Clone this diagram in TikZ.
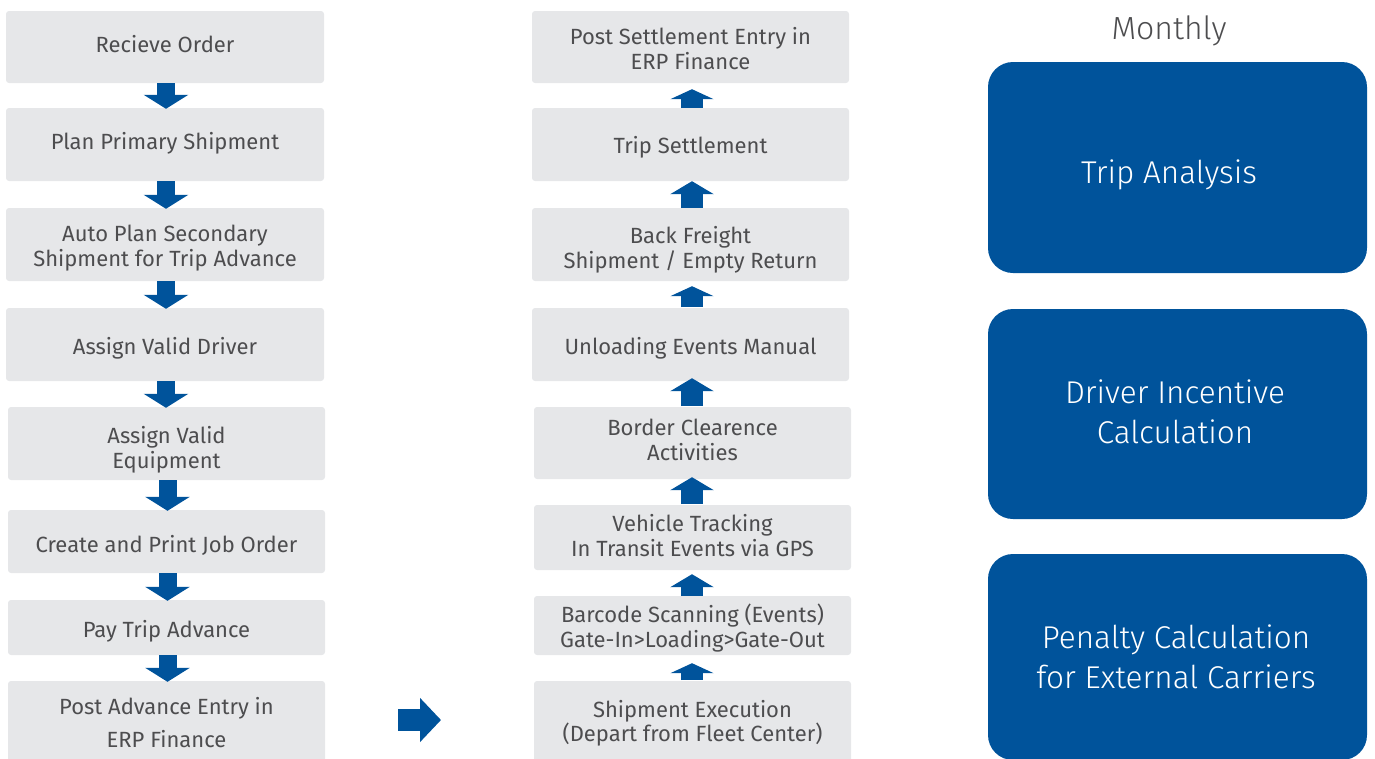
\documentclass[tikz,border=0pt]{standalone}
\usepackage{fontspec}
\setmainfont{Fira Sans}
\newfontfamily\lightfont{Fira Sans Light}
\usetikzlibrary{arrows.meta,calc}
\definecolor{boxgray}{HTML}{E6E7E9}
\definecolor{txtgray}{HTML}{4D4D4F}
\definecolor{corpblue}{HTML}{00539B}
\tikzset{
  graybox/.style={fill=boxgray, rounded corners=3pt, inner sep=0pt},
  graytext/.style={inner sep=0pt, align=center, anchor=base,
    text=txtgray, font=\fontsize{22}{24.5}\selectfont},
  bluebox/.style={fill=corpblue, rounded corners=25pt, inner sep=0pt},
  bluetext/.style={inner sep=0pt, align=center, anchor=base,
    text=white, font=\lightfont\fontsize{31.5}{40}\selectfont},
  blockarrow/.style={draw=corpblue, line width=22pt,
    -{Triangle[width=43pt,length=13pt]}},
  leftarrow/.style={draw=corpblue, line width=18pt,
    -{Triangle[width=44pt,length=14pt]}},
  smallarrow/.style={draw=corpblue, line width=22pt,
    -{Triangle[width=43pt,length=10pt]}},
  bigarrow/.style={draw=corpblue, line width=22pt,
    -{Triangle[width=43pt,length=21pt]}}
}
% name, x1, x2, y1, y2, baseline of the last text line, text
\newcommand{\gbox}[7]{%
  \node[graybox, minimum width={#3pt-#2pt}, minimum height={#5pt-#4pt}]
    (#1) at ({(#2+#3)/2},{(#4+#5)/2}) {};
  \node[graytext] (#1t) at ({(#2+#3)/2},#6) {#7};}
\begin{document}
\begin{tikzpicture}[x=1pt,y=-1pt]
\useasboundingbox (0,0) rectangle (1375,758);
\clip (0,0) rectangle (1375,758);
% left column
\gbox{l1}{6}{324}{11}{83}{52.5}{Recieve Order}
\gbox{l2}{6}{324}{108}{181}{149}{Plan Primary Shipment}
\gbox{l3}{6}{324}{208}{281}{266}{Auto Plan Secondary\\Shipment for Trip Advance}
\gbox{l4}{6}{324}{308}{381}{354.5}{Assign Valid Driver}
\gbox{l5}{8}{325}{407}{480}{468}{Assign Valid\\Equipment}
\gbox{l6}{8}{325}{510}{573}{552.5}{Create and Print Job Order}
\gbox{l7}{8}{325}{600}{655}{637}{Pay Trip Advance}
\gbox{l8}{8}{325}{681}{767}{747}{Post Advance Entry in\\[8.5pt]ERP Finance}
\foreach \a/\b in {l1/l2,l2/l3,l3/l4,l4/l5,l5/l6,l6/l7,l7/l8}{
  \draw[leftarrow] ($(\a.south)+(1,0)$) -- ($(\a.south |- \b.north)+(1,1)$);
}
% middle column
\gbox{m1}{532}{849}{11}{83}{69}{Post Settlement Entry in\\ERP Finance}
\gbox{m2}{532}{849}{108}{181}{153}{Trip Settlement}
\gbox{m3}{532}{849}{208}{281}{268}{Back Freight\\Shipment / Empty Return}
\gbox{m4}{532}{849}{308}{381}{354.5}{Unloading Events Manual}
\gbox{m5}{534}{851}{407}{479}{460}{Border Clearence\\Activities}
\gbox{m6}{534}{851}{505}{570}{556}{Vehicle Tracking\\In Transit Events via GPS}
\gbox{m7}{534}{851}{596}{655}{647}{Barcode Scanning (Events)\\Gate-In>Loading>Gate-Out}
\gbox{m8}{534}{851}{681}{763}{741.5}{Shipment Execution\\(Depart from Fleet Center)}
\draw[smallarrow] (692,108) -- ($(m1.south)+(1.5,6)$);
\draw[blockarrow] (692,208) -- ($(m2.south)+(1.5,0)$);
\draw[smallarrow] (692,307) -- ($(m3.south)+(1.5,5)$);
\draw[blockarrow] (692,406) -- ($(m4.south)+(1.5,-3)$);
\draw[blockarrow] (692,504) -- ($(m5.south)+(-0.5,-2)$);
\draw[blockarrow] (692,596) -- ($(m6.south)+(-0.5,4)$);
\draw[smallarrow] (692,680) -- ($(m7.south)+(-0.5,8)$);
% right arrow
\coordinate (ra1) at (398,720);
\coordinate (ra2) at (441,720);
\draw[bigarrow] (ra1) -- (ra2);
% right column
\node[inner sep=0pt, anchor=base, text=txtgray, font=\lightfont\fontsize{32}{36}\selectfont] (monthly) at (1169,39) {Monthly};
\node[bluebox, minimum width=379pt, minimum height=211pt] (b1) at (1177.5,167.5) {};
\node[bluetext] (b1t) at (1169,183) {Trip Analysis};
\node[bluebox, minimum width=379pt, minimum height=210pt] (b2) at (1177.5,414) {};
\node[bluetext] (b2t) at (1175,443) {Driver Incentive\\Calculation};
\node[bluebox, minimum width=379pt, minimum height=206pt] (b3) at (1177.5,657) {};
\node[bluetext] (b3t) at (1176,688) {Penalty Calculation\\for External Carriers};
\end{tikzpicture}
\end{document}
